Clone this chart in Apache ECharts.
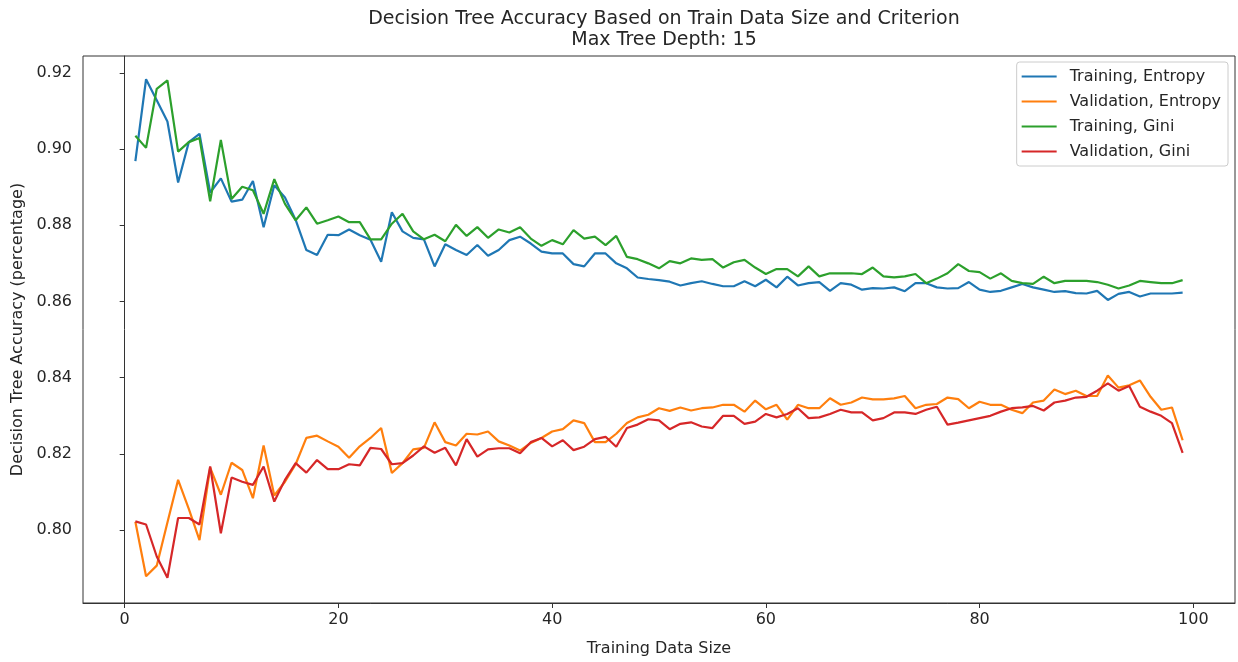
<!DOCTYPE html>
<html>
<head>
<meta charset="utf-8">
<script src="https://cdn.jsdelivr.net/npm/echarts@6/dist/echarts.min.js"></script>
<style>
html,body{margin:0;padding:0;background:#fff;}
#chart{width:1238px;height:662px;}
</style>
</head>
<body>
<div id="chart"></div>
<script>
const titleText = "Decision Tree Accuracy Based on Train Data Size and Criterion\nMax Tree Depth: 15";
const xAxisName = "Training Data Size";
const yAxisName = "Decision Tree Accuracy (percentage)";
const seriesNames = ["Training, Entropy", "Validation, Entropy", "Training, Gini", "Validation, Gini"];
const xTicks = [0, 20, 40, 60, 80, 100];
const yTicks = [0.80, 0.82, 0.84, 0.86, 0.88, 0.90, 0.92];

const sizes = [1,2,3,4,5,6,7,8,9,10,11,12,13,14,15,16,17,18,19,20,
21,22,23,24,25,26,27,28,29,30,31,32,33,34,35,36,37,38,39,40,
41,42,43,44,45,46,47,48,49,50,51,52,53,54,55,56,57,58,59,60,
61,62,63,64,65,66,67,68,69,70,71,72,73,74,75,76,77,78,79,80,
81,82,83,84,85,86,87,88,89,90,91,92,93,94,95,96,97,98,99];

const trainEntropy = [0.8968,0.9183,0.9128,0.9072,0.8912,0.9018,0.9040,0.8886,0.8923,0.8862,
0.8867,0.8916,0.8795,0.8905,0.8873,0.8814,0.8735,0.8722,0.8775,0.8774,
0.8789,0.8774,0.8762,0.8704,0.8834,0.8784,0.8767,0.8763,0.8692,0.8750,
0.8735,0.8722,0.8748,0.8720,0.8735,0.8761,0.8770,0.8752,0.8731,0.8726,
0.8726,0.8698,0.8692,0.8726,0.8726,0.8700,0.8687,0.8663,0.8659,0.8656,
0.8652,0.8642,0.8648,0.8653,0.8646,0.8640,0.8640,0.8653,0.8640,0.8657,
0.8637,0.8665,0.8642,0.8648,0.8651,0.8628,0.8648,0.8644,0.8631,0.8635,
0.8634,0.8637,0.8627,0.8648,0.8648,0.8637,0.8634,0.8635,0.8651,0.8631,
0.8625,0.8628,0.8637,0.8646,0.8637,0.8631,0.8625,0.8627,0.8622,0.8621,
0.8628,0.8604,0.8620,0.8625,0.8613,0.8621,0.8621,0.8621,0.8623];

const valEntropy = [0.8022,0.7879,0.7907,0.8020,0.8132,0.8056,0.7974,0.8164,0.8093,0.8177,
0.8158,0.8084,0.8222,0.8091,0.8127,0.8173,0.8242,0.8248,0.8233,0.8219,
0.8190,0.8220,0.8242,0.8268,0.8150,0.8176,0.8212,0.8216,0.8283,0.8231,
0.8222,0.8253,0.8251,0.8259,0.8233,0.8222,0.8209,0.8229,0.8242,0.8259,
0.8265,0.8288,0.8281,0.8231,0.8231,0.8253,0.8281,0.8296,0.8303,0.8320,
0.8313,0.8322,0.8314,0.8320,0.8322,0.8329,0.8329,0.8311,0.8340,0.8317,
0.8329,0.8290,0.8329,0.8320,0.8320,0.8346,0.8329,0.8335,0.8348,0.8343,
0.8343,0.8346,0.8352,0.8320,0.8329,0.8331,0.8348,0.8344,0.8320,0.8337,
0.8329,0.8329,0.8316,0.8307,0.8335,0.8340,0.8369,0.8357,0.8366,0.8352,
0.8352,0.8406,0.8374,0.8380,0.8393,0.8350,0.8316,0.8322,0.8236];

const trainGini = [0.9035,0.9003,0.9158,0.9180,0.8993,0.9018,0.9029,0.8863,0.9024,0.8869,
0.8901,0.8892,0.8830,0.8921,0.8856,0.8813,0.8847,0.8804,0.8813,0.8823,
0.8808,0.8808,0.8763,0.8763,0.8804,0.8830,0.8784,0.8763,0.8775,0.8758,
0.8801,0.8772,0.8795,0.8767,0.8789,0.8781,0.8795,0.8765,0.8746,0.8761,
0.8750,0.8787,0.8765,0.8770,0.8748,0.8772,0.8717,0.8711,0.8700,0.8687,
0.8706,0.8700,0.8713,0.8709,0.8711,0.8689,0.8703,0.8709,0.8689,0.8672,
0.8685,0.8685,0.8666,0.8692,0.8666,0.8674,0.8674,0.8674,0.8672,0.8689,
0.8666,0.8663,0.8666,0.8672,0.8648,0.8660,0.8674,0.8698,0.8680,0.8677,
0.8660,0.8674,0.8654,0.8648,0.8646,0.8665,0.8648,0.8654,0.8654,0.8654,
0.8651,0.8644,0.8634,0.8642,0.8654,0.8651,0.8648,0.8648,0.8656];

const valGini = [0.8023,0.8015,0.7931,0.7875,0.8032,0.8032,0.8015,0.8167,0.7992,0.8138,
0.8127,0.8119,0.8167,0.8075,0.8132,0.8176,0.8151,0.8184,0.8160,0.8160,
0.8173,0.8170,0.8216,0.8213,0.8173,0.8176,0.8196,0.8220,0.8203,0.8216,
0.8170,0.8239,0.8193,0.8212,0.8215,0.8215,0.8202,0.8231,0.8242,0.8220,
0.8236,0.8210,0.8219,0.8239,0.8245,0.8219,0.8268,0.8277,0.8291,0.8288,
0.8265,0.8279,0.8283,0.8272,0.8268,0.8300,0.8300,0.8279,0.8285,0.8305,
0.8296,0.8305,0.8320,0.8294,0.8296,0.8305,0.8316,0.8309,0.8309,0.8288,
0.8294,0.8309,0.8309,0.8305,0.8316,0.8324,0.8277,0.8282,0.8288,0.8294,
0.8300,0.8311,0.8320,0.8322,0.8326,0.8314,0.8335,0.8340,0.8348,0.8350,
0.8366,0.8385,0.8366,0.8378,0.8324,0.8311,0.8300,0.8281,0.8203];

const colors = ["#1f77b4", "#ff7f0e", "#2ca02c", "#d62728"];
const allSeries = [trainEntropy, valEntropy, trainGini, valGini];

const FONT = "DejaVu Sans";
const TXT = "#262626";
const chart = echarts.init(document.getElementById('chart'), null, {renderer: 'canvas'});

const option = {
  animation: false,
  backgroundColor: '#ffffff',
  color: colors,
  textStyle: {fontFamily: FONT},
  title: {
    text: titleText,
    left: 659,
    textAlign: 'center',
    top: 4,
    textStyle: {fontFamily: FONT, fontSize: 19, fontWeight: 'normal', color: TXT, lineHeight: 20.5}
  },
  grid: {
    left: 83, right: 3, top: 56, bottom: 53,
    show: true, borderColor: '#333', borderWidth: 1, backgroundColor: 'transparent'
  },
  legend: {
    orient: 'vertical',
    right: 10,
    top: 62,
    data: seriesNames.map(n => ({name: n, icon: 'rect'})),
    itemWidth: 35,
    itemHeight: 2,
    itemGap: 8,
    padding: [6, 7, 6, 5],
    borderColor: '#cccccc',
    borderWidth: 1,
    borderRadius: 3,
    backgroundColor: '#fff',
    textStyle: {fontFamily: FONT, fontSize: 16, color: TXT, lineHeight: 17, padding: [0, 0, 0, 8]}
  },
  xAxis: {
    type: 'value',
    min: -3.9,
    max: 103.9,
    name: xAxisName,
    nameLocation: 'middle',
    nameGap: 38,
    nameTextStyle: {fontFamily: FONT, fontSize: 16, color: TXT},
    axisLine: {show: true, lineStyle: {color: '#333', width: 1}},
    axisTick: {show: true, length: 5, lineStyle: {color: '#333'}, customValues: xTicks},
    axisLabel: {fontFamily: FONT, fontSize: 16, color: TXT, margin: 9, customValues: xTicks},
    splitLine: {show: false}
  },
  yAxis: {
    type: 'value',
    min: 0.7809,
    max: 0.9244,
    name: yAxisName,
    nameLocation: 'middle',
    nameGap: 55,
    nameTextStyle: {fontFamily: FONT, fontSize: 16, color: TXT},
    axisLine: {show: true, lineStyle: {color: '#333', width: 1}},
    axisTick: {show: true, length: 5, lineStyle: {color: '#333'}, customValues: yTicks},
    axisLabel: {fontFamily: FONT, fontSize: 16, color: TXT, margin: 11,
      customValues: yTicks, formatter: v => v.toFixed(2)},
    splitLine: {show: false}
  },
  series: allSeries.map((vals, k) => ({
    name: seriesNames[k],
    type: 'line',
    data: sizes.map((s, i) => [s, vals[i]]),
    symbol: 'none',
    lineStyle: {width: 2.2, color: colors[k]},
    itemStyle: {color: colors[k]},
    z: 2 + k
  }))
};
chart.setOption(option);
</script>
</body>
</html>
